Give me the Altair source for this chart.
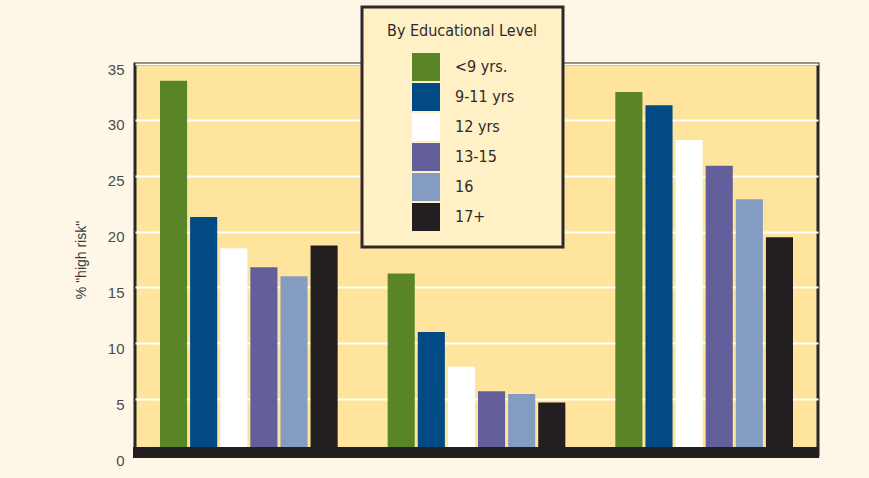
import altair as alt
import pandas as pd

groups = ["Group 1", "Group 2", "Group 3"]
levels = ["<9 yrs.", "9-11 yrs", "12 yrs", "13-15", "16", "17+"]
values_g1 = [33.5, 21.3, 18.5, 16.8, 16.0, 18.75]
values_g2 = [16.25, 11.0, 7.9, 5.7, 5.45, 4.7]
values_g3 = [32.5, 31.3, 28.2, 25.9, 22.9, 19.5]
colors = ["#5A8527", "#014A84", "#FFFFFF", "#635F9B", "#859CC2", "#231F20"]
y_ticks = [0, 5, 10, 15, 20, 25, 30, 35]

rows = []
for g, vals in zip(groups, [values_g1, values_g2, values_g3]):
    for lvl, v in zip(levels, vals):
        rows.append({"group": g, "level": lvl, "value": v})
df = pd.DataFrame(rows)

narrow = "Liberation Sans Narrow, DejaVu Sans Condensed, Roboto Condensed, Arial Narrow, sans-serif"
regular = "Liberation Sans, Arial, Helvetica, sans-serif"

# trailing spaces kept by ending with a zero-width space (only widens legend box)
pad = " " * 7 + "\u200b"

bars = alt.Chart(df).mark_bar(opacity=1).encode(
    x=alt.X("group:N", sort=groups, axis=None,
            scale=alt.Scale(paddingInner=0, paddingOuter=0)),
    xOffset=alt.XOffset("level:N", sort=levels,
                        scale=alt.Scale(paddingInner=0.1, paddingOuter=0.83)),
    y=alt.Y("value:Q",
            scale=alt.Scale(domain=[0, 35], nice=False, zero=True),
            axis=alt.Axis(values=y_ticks, title='% "high risk"', grid=True,
                          gridColor="#FFFFFF", gridWidth=2, gridOpacity=1,
                          domain=False, ticks=False,
                          labelFont=regular, labelFontSize=15, labelColor="#4A4A4A",
                          labelPadding=11, labelOffset=5,
                          titleFont=regular, titleFontSize=14, titleColor="#3A3A3A",
                          titleFontWeight="normal", titlePadding=19)),
    color=alt.Color("level:N", sort=levels,
                    scale=alt.Scale(domain=levels, range=colors),
                    legend=alt.Legend(
                        title="By Educational Level", orient="none",
                        legendX=227, legendY=-57,
                        fillColor="#FFF0C6", strokeColor="#2E2A2B",
                        padding=16, titleAnchor="middle",
                        titleFont=narrow, titleFontSize=16, titleFontWeight="normal",
                        titleColor="#2E2A2B", titlePadding=14,
                        labelFont=narrow, labelFontSize=16, labelColor="#2E2A2B",
                        labelOffset=15, symbolOffset=34,
                        labelExpr="datum.label + '" + pad + "'",
                        labelLimit=300,
                        symbolType="square", symbolSize=784, symbolStrokeWidth=0,
                        symbolOpacity=1, rowPadding=2)),
)

band = alt.Chart(pd.DataFrame({"z": [0]})).mark_rect(color="#231F20").encode(
    x=alt.value(-2), x2=alt.value(684), y=alt.value(383), y2=alt.value(394)
)

chart = alt.layer(bars, band).properties(
    width=683, height=391,
    autosize=alt.AutoSizeParams(type="none"),
    padding={"left": 135, "top": 64, "right": 51, "bottom": 23},
    background="#FEF7E8",
).configure_view(
    fill="#FEE49C", stroke="#2A2627", strokeWidth=3
).configure_legend(strokeWidth=3)

chart.save("out.html", embed_options={"renderer": "svg", "actions": False})
